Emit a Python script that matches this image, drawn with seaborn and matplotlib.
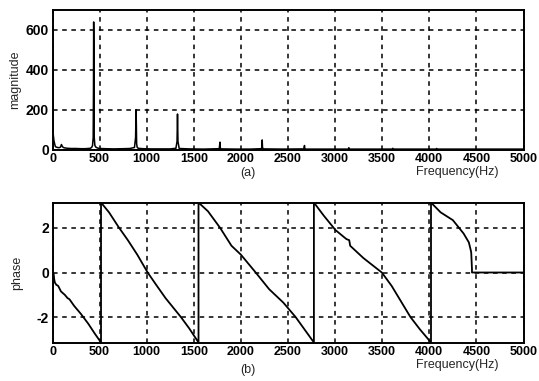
import numpy as np
import pandas as pd
import matplotlib
matplotlib.use("Agg")
import matplotlib.pyplot as plt
import seaborn as sns

# ---- data ----
mag_freq = [0, 0, 3, 8, 15, 22, 30, 40, 55, 70, 85, 95, 105, 115, 130, 160, 200, 250, 300,
            350, 400, 415, 425, 432, 435, 437, 440, 443, 450, 460, 475, 500, 560, 650, 750,
            820, 870, 882, 887, 890, 893, 898, 910, 960, 1050, 1150, 1250, 1310, 1322, 1327,
            1332, 1345, 1450, 1600, 1770, 1778, 1781, 1786, 1950, 2100, 2220, 2226, 2229,
            2235, 2450, 2668, 2675, 2678, 2685, 2900, 3140, 3146, 3152, 3400, 3606, 3612,
            3618, 3850, 4072, 4078, 4084, 4400, 4700, 5000]
mag_vals = [0, 490, 80, 75, 45, 30, 15, 12, 10, 9, 12, 25, 15, 10, 8, 6, 5, 5, 4,
            4, 6, 10, 20, 60, 300, 640, 480, 60, 20, 12, 8, 5, 4, 3, 4,
            5, 10, 60, 200, 130, 30, 12, 6, 4, 3, 3, 3, 6, 40, 178,
            40, 5, 3, 2, 4, 37, 10, 3, 2, 2, 4, 48, 12,
            3, 2, 3, 20, 6, 2, 2, 2, 9, 2, 2, 2, 6,
            2, 2, 2, 5, 2, 2, 2, 2]

ph_freq = [0, 12, 18, 25, 40, 60, 90, 130, 160, 180, 230, 300, 380, 450, 515,
           515, 600, 700, 800, 900, 1010, 1100, 1200, 1363, 1450, 1550,
           1550, 1650, 1780, 1900, 2000, 2157, 2300, 2450, 2581, 2700, 2775,
           2775, 2880, 3005, 3120, 3150, 3160, 3300, 3496, 3600, 3800, 3900, 4018,
           4018, 4120, 4250, 4364, 4420, 4440, 4445, 4453, 4453, 4700, 5000]
ph_vals = [0, -0.05, -0.3, -0.45, -0.55, -0.6, -0.85, -1.0, -1.15, -1.2, -1.5, -1.85, -2.3, -2.75, -3.14,
           3.14, 2.7, 2.05, 1.45, 0.8, 0.0, -0.55, -1.15, -2.0, -2.5, -3.14,
           3.14, 2.75, 2.0, 1.2, 0.8, 0.0, -0.75, -1.35, -2.0, -2.7, -3.14,
           3.14, 2.55, 1.9, 1.5, 1.45, 1.2, 0.65, 0.0, -0.6, -2.0, -2.55, -3.14,
           3.14, 2.7, 2.35, 1.75, 1.35, 1.0, 0.9, 0.15, 0.0, 0.0, 0.0]

xticks = [0, 500, 1000, 1500, 2000, 2500, 3000, 3500, 4000, 4500, 5000]
mag_yticks = [0, 200, 400, 600]
ph_yticks = [-2, 0, 2]

sns.set_style("white")
plt.rcParams['font.family'] = ['Liberation Sans', 'DejaVu Sans']

W, H = 539, 381
fig = plt.figure(figsize=(W / 100, H / 100), dpi=100)

def px_axes(left, top, right, bottom):
    return fig.add_axes([left / W, 1 - bottom / H, (right - left) / W, (bottom - top) / H])

ax1 = px_axes(52.5, 10, 523.5, 149.5)
ax2 = px_axes(52.5, 202.5, 523.5, 342.5)

df_mag = pd.DataFrame({"f": mag_freq, "m": mag_vals})
df_ph = pd.DataFrame({"f": ph_freq, "p": ph_vals})

sns.lineplot(data=df_mag, x="f", y="m", ax=ax1, color="black", lw=1.1,
             sort=False, estimator=None)
sns.lineplot(data=df_ph, x="f", y="p", ax=ax2, color="black", lw=1.3,
             sort=False, estimator=None)

fs = 9
for ax in (ax1, ax2):
    ax.set_xlim(0, 5000)
    ax.set_xticks(xticks)
    ax.set_xticklabels([str(t) for t in xticks], fontsize=fs, fontweight='bold')
    ax.grid(True, color="black", linestyle=(0, (3, 3)), linewidth=1.1)
    ax.tick_params(direction="in", length=3, width=1, colors="black", pad=2.5)
    for s in ax.spines.values():
        s.set_color("black")
        s.set_linewidth(1.4)
    ax.set_xlabel("")
    ax.set_ylabel("")

ax1.set_ylim(0, 700)
ax1.set_yticks(mag_yticks)
ax1.set_yticklabels([str(t) for t in mag_yticks], fontsize=fs + 1, fontweight='bold')
ax1.set_ylabel("magnitude", fontsize=fs, labelpad=3)

ax2.set_ylim(-np.pi, np.pi)
ax2.set_yticks(ph_yticks)
ax2.set_yticklabels([str(t) for t in ph_yticks], fontsize=fs + 1, fontweight='bold')
ax2.set_ylabel("phase", fontsize=fs, labelpad=10)

fig.text(248 / W, 1 - 173 / H, "(a)", ha="center", va="center", fontsize=fs)
fig.text(457 / W, 1 - 172 / H, "Frequency(Hz)", ha="center", va="center", fontsize=fs)
fig.text(248 / W, 1 - 370 / H, "(b)", ha="center", va="center", fontsize=fs)
fig.text(457 / W, 1 - 365 / H, "Frequency(Hz)", ha="center", va="center", fontsize=fs)

fig.savefig("out.png", dpi=100, facecolor="white")
